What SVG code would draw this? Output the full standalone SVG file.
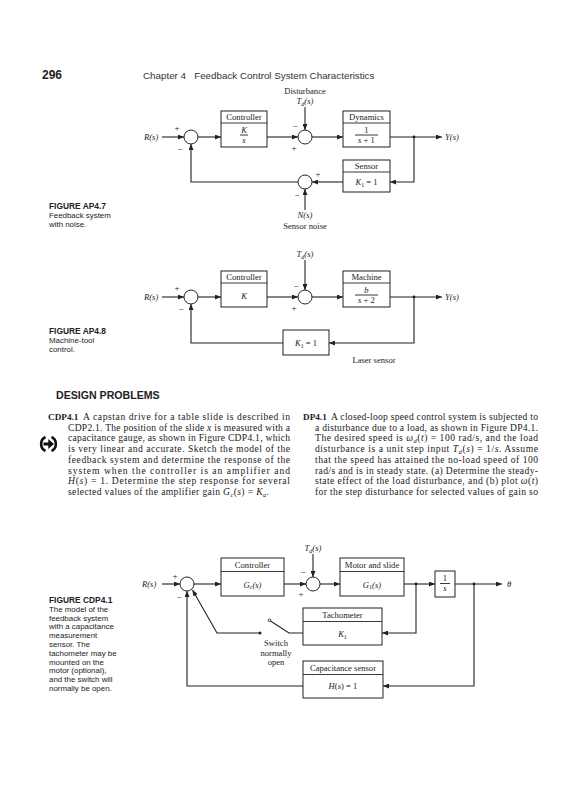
<svg xmlns="http://www.w3.org/2000/svg" width="569" height="800" viewBox="0 0 569 800">
<defs>
<marker id="ah" markerWidth="6" markerHeight="5" refX="6" refY="2.5" orient="auto" markerUnits="userSpaceOnUse"><path d="M0,0 L6,2.5 L0,5 z" fill="#222"/></marker>
<style>
.box{fill:#fff;stroke:#222;stroke-width:1}
.dv{stroke:#222;stroke-width:0.9}
.ln{fill:none;stroke:#222;stroke-width:1.1}
.ar{fill:none;stroke:#222;stroke-width:1.1;marker-end:url(#ah)}
.sum{fill:#fff;stroke:#222;stroke-width:1}
.t{font-family:"Liberation Serif","Times New Roman",serif;font-size:8.6px;fill:#222}
.m{text-anchor:middle}
.i{font-style:italic}
.sg{font-family:"Liberation Serif",serif;font-size:9px;fill:#222;text-anchor:middle}
.cap{font-family:"Liberation Sans",Arial,sans-serif;font-size:7.9px;fill:#222}
.capb{font-family:"Liberation Sans",Arial,sans-serif;font-size:8.4px;font-weight:bold;fill:#222}
.body{font-family:"Liberation Serif","Times New Roman",serif;font-size:9.6px;fill:#222}
.bb{font-weight:bold;font-size:9.2px}
</style>
</defs>
<rect width="569" height="800" fill="#fff"/>

<!-- header -->
<text x="42" y="79" font-family="Liberation Sans,Arial,sans-serif" font-size="12" font-weight="bold" fill="#222">296</text>
<text x="143" y="79" font-family="Liberation Sans,Arial,sans-serif" font-size="9.8" fill="#333" xml:space="preserve">Chapter 4   Feedback Control System Characteristics</text>

<!-- ================= FIGURE AP4.7 ================= -->
<g id="ap47">
<g id="ap47-connectors">
<path class="ar" d="M162,137 H184"/>
<path class="ar" d="M198,137 H221"/>
<path class="ar" d="M267,137 H298"/>
<path class="ar" d="M305,107 V130"/>
<path class="ar" d="M312,137 H343"/>
<path class="ar" d="M390,137 H442"/>
<path class="ar" d="M414,137 V182 H390"/>
<path class="ar" d="M343,182 H312"/>
<path class="ar" d="M298,182 H191 V144"/>
<path class="ar" d="M305,210 V189"/>
<circle cx="414" cy="137" r="1.4" fill="#222"/>
</g>
<g id="ap47-sum1"><circle class="sum" cx="191" cy="137" r="7"/><text class="sg" x="177" y="131">+</text><text class="sg" x="180" y="152">−</text></g>
<g id="ap47-sum2"><circle class="sum" cx="305" cy="137" r="7"/><text class="sg" x="295" y="129">−</text><text class="sg" x="294" y="151">+</text></g>
<g id="ap47-sum3"><circle class="sum" cx="305" cy="182" r="7"/><text class="sg" x="318" y="177">+</text><text class="sg" x="297" y="198">−</text></g>
<g id="ap47-controller">
<rect class="box" x="221" y="111" width="46" height="36"/><line class="dv" x1="221" y1="123" x2="267" y2="123"/>
<text class="t m" x="244" y="120">Controller</text>
<text class="t m i" x="244" y="133">K</text><line class="dv" x1="240" y1="135" x2="248" y2="135"/><text class="t m i" x="244" y="142.5">s</text>
</g>
<g id="ap47-dynamics">
<rect class="box" x="343" y="111" width="47" height="36"/><line class="dv" x1="343" y1="123" x2="390" y2="123"/>
<text class="t m" x="366.5" y="120">Dynamics</text>
<text class="t m" x="366.5" y="133">1</text><line class="dv" x1="355" y1="135" x2="378" y2="135"/><text class="t m" x="366.5" y="143"><tspan class="i">s</tspan> + 1</text>
</g>
<g id="ap47-sensor">
<rect class="box" x="343" y="160" width="47" height="32"/><line class="dv" x1="343" y1="172" x2="390" y2="172"/>
<text class="t m" x="366.5" y="169">Sensor</text>
<text class="t m" x="366.5" y="185"><tspan class="i">K</tspan><tspan font-size="6" dy="1.5">1</tspan><tspan dy="-1.5"> = 1</tspan></text>
</g>
<g id="ap47-labels">
<text class="t i" x="144" y="140">R(s)</text>
<text class="t i" x="445" y="140">Y(s)</text>
<text class="t m" x="305" y="94">Disturbance</text>
<text class="t m i" x="305" y="104">T<tspan font-size="6" dy="1.5">d</tspan><tspan dy="-1.5">(s)</tspan></text>
<text class="t m i" x="305" y="218">N(s)</text>
<text class="t m" x="305" y="228.5">Sensor noise</text>
</g>
</g>
<g id="ap47-caption">
<text class="capb" x="49" y="209">FIGURE AP4.7</text>
<text class="cap" x="49" y="218">Feedback system</text>
<text class="cap" x="49" y="226.8">with noise.</text>
</g>

<!-- ================= FIGURE AP4.8 ================= -->
<g id="ap48">
<g id="ap48-connectors">
<path class="ar" d="M162,297 H184"/>
<path class="ar" d="M198,297 H221"/>
<path class="ar" d="M267,297 H298"/>
<path class="ar" d="M305,260 V290"/>
<path class="ar" d="M312,297 H343"/>
<path class="ar" d="M390,297 H442"/>
<path class="ar" d="M414,297 V343 H329"/>
<path class="ar" d="M283,343 H191 V304"/>
<circle cx="414" cy="297" r="1.4" fill="#222"/>
</g>
<g id="ap48-sum1"><circle class="sum" cx="191" cy="297" r="7"/><text class="sg" x="177" y="291">+</text><text class="sg" x="181" y="312">−</text></g>
<g id="ap48-sum2"><circle class="sum" cx="305" cy="297" r="7"/><text class="sg" x="296" y="289">−</text><text class="sg" x="294" y="311">+</text></g>
<g id="ap48-controller">
<rect class="box" x="221" y="271" width="46" height="36"/><line class="dv" x1="221" y1="283" x2="267" y2="283"/>
<text class="t m" x="244" y="280">Controller</text>
<text class="t m i" x="244" y="299">K</text>
</g>
<g id="ap48-machine">
<rect class="box" x="343" y="271" width="47" height="36"/><line class="dv" x1="343" y1="283" x2="390" y2="283"/>
<text class="t m" x="366.5" y="280">Machine</text>
<text class="t m i" x="366.5" y="293">b</text><line class="dv" x1="355" y1="295" x2="378" y2="295"/><text class="t m" x="366.5" y="303"><tspan class="i">s</tspan> + 2</text>
</g>
<g id="ap48-sensor">
<rect class="box" x="283" y="330" width="46" height="25"/>
<text class="t m" x="306" y="346"><tspan class="i">K</tspan><tspan font-size="6" dy="1.5">1</tspan><tspan dy="-1.5"> = 1</tspan></text>
</g>
<g id="ap48-labels">
<text class="t i" x="144" y="300">R(s)</text>
<text class="t i" x="445" y="300">Y(s)</text>
<text class="t m i" x="305" y="257">T<tspan font-size="6" dy="1.5">d</tspan><tspan dy="-1.5">(s)</tspan></text>
<text class="t m" x="374" y="363">Laser sensor</text>
</g>
</g>
<g id="ap48-caption">
<text class="capb" x="49" y="334">FIGURE AP4.8</text>
<text class="cap" x="49" y="343">Machine-tool</text>
<text class="cap" x="49" y="351.8">control.</text>
</g>

<!-- ================= DESIGN PROBLEMS ================= -->
<text x="56" y="399" font-family="Liberation Sans,Arial,sans-serif" font-size="10.6" font-weight="bold" fill="#222">DESIGN PROBLEMS</text>

<g id="cdp41-text">
<text class="body bb" x="48" y="420">CDP4.1</text>
<text class="body" x="83" y="420" textLength="207" lengthAdjust="spacing">A capstan drive for a table slide is described in</text>
<text class="body" x="68" y="430.7" textLength="222" lengthAdjust="spacing">CDP2.1. The position of the slide <tspan class="i">x</tspan> is measured with a</text>
<text class="body" x="68" y="441.4" textLength="222" lengthAdjust="spacing">capacitance gauge, as shown in Figure CDP4.1, which</text>
<text class="body" x="68" y="452.1" textLength="222" lengthAdjust="spacing">is very linear and accurate. Sketch the model of the</text>
<text class="body" x="68" y="462.8" textLength="222" lengthAdjust="spacing">feedback system and determine the response of the</text>
<text class="body" x="68" y="473.5" textLength="222" lengthAdjust="spacing">system when the controller is an amplifier and</text>
<text class="body" x="68" y="484.2" textLength="222" lengthAdjust="spacing"><tspan class="i">H</tspan>(<tspan class="i">s</tspan>) = 1. Determine the step response for several</text>
<text class="body" x="68" y="494.9" textLength="201" lengthAdjust="spacing">selected values of the amplifier gain <tspan class="i">G</tspan><tspan font-size="6.5" dy="1.8" class="i">c</tspan><tspan dy="-1.8">(</tspan><tspan class="i">s</tspan>) = <tspan class="i">K</tspan><tspan font-size="6.5" dy="1.8" class="i">a</tspan><tspan dy="-1.8">.</tspan></text>
</g>
<g id="cdp-icon">
<path d="M45.5,437 A7.8,7.8 0 0 0 45.5,451 M51.5,437 A7.8,7.8 0 0 1 51.5,451" fill="none" stroke="#111" stroke-width="2.6"/>
<path d="M43.5,442.5 H48.3 V439 L54,444 L48.3,449 V445.5 H43.5 z" fill="#111"/>
</g>

<g id="dp41-text">
<text class="body bb" x="303" y="420">DP4.1</text>
<text class="body" x="331" y="420" textLength="207" lengthAdjust="spacing">A closed-loop speed control system is subjected to</text>
<text class="body" x="315" y="430.7" textLength="223" lengthAdjust="spacing">a disturbance due to a load, as shown in Figure DP4.1.</text>
<text class="body" x="315" y="441.4" textLength="223" lengthAdjust="spacing">The desired speed is <tspan class="i">ω</tspan><tspan font-size="6.5" dy="1.8" class="i">d</tspan><tspan dy="-1.8">(</tspan><tspan class="i">t</tspan>) = 100 rad/s, and the load</text>
<text class="body" x="315" y="452.1" textLength="223" lengthAdjust="spacing">disturbance is a unit step input <tspan class="i">T</tspan><tspan font-size="6.5" dy="1.8" class="i">d</tspan><tspan dy="-1.8">(</tspan><tspan class="i">s</tspan>) = 1/<tspan class="i">s</tspan>. Assume</text>
<text class="body" x="315" y="462.8" textLength="223" lengthAdjust="spacing">that the speed has attained the no-load speed of 100</text>
<text class="body" x="315" y="473.5" textLength="223" lengthAdjust="spacing">rad/s and is in steady state. (a) Determine the steady-</text>
<text class="body" x="315" y="484.2" textLength="223" lengthAdjust="spacing">state effect of the load disturbance, and (b) plot <tspan class="i">ω</tspan>(<tspan class="i">t</tspan>)</text>
<text class="body" x="315" y="494.9" textLength="223" lengthAdjust="spacing">for the step disturbance for selected values of gain so</text>
</g>

<!-- ================= FIGURE CDP4.1 ================= -->
<g id="cdp41">
<g id="cdp41-connectors">
<path class="ar" d="M162,584 H180"/>
<path class="ar" d="M194,584 H221"/>
<path class="ar" d="M284,584 H306"/>
<path class="ar" d="M313,554 V577"/>
<path class="ar" d="M320,584 H340"/>
<path class="ar" d="M404,584 H435"/>
<path class="ar" d="M455,584 H502"/>
<path class="ar" d="M416,584 V633 H382"/>
<path class="ln" d="M303,633 H289 L270.5,621"/>
<circle cx="269.5" cy="620.3" r="1.3" fill="#fff" stroke="#222" stroke-width="0.9"/>
<circle cx="260" cy="633" r="1.5" fill="#222"/>
<path class="ar" d="M260,633 H217 L192.5,590"/>
<path class="ar" d="M474,584 V686 H383"/>
<path class="ar" d="M303,686 H187 V591"/>
<circle cx="416" cy="584" r="1.4" fill="#222"/>
<circle cx="474" cy="584" r="1.4" fill="#222"/>
</g>
<g id="cdp41-sum1"><circle class="sum" cx="187" cy="584" r="7"/><text class="sg" x="175" y="579">+</text><text class="sg" x="179" y="600">−</text></g>
<g id="cdp41-sum2"><circle class="sum" cx="313" cy="584" r="7"/><text class="sg" x="303" y="575">−</text><text class="sg" x="301" y="597">+</text></g>
<g id="cdp41-controller">
<rect class="box" x="221" y="558" width="63" height="38"/><line class="dv" x1="221" y1="571.5" x2="284" y2="571.5"/>
<text class="t m" x="252.5" y="568">Controller</text>
<text class="t m i" x="252.5" y="587.5">G<tspan font-size="6" dy="1.5">c</tspan><tspan dy="-1.5">(s)</tspan></text>
</g>
<g id="cdp41-motor">
<rect class="box" x="340" y="558" width="64" height="38"/><line class="dv" x1="340" y1="571.5" x2="404" y2="571.5"/>
<text class="t m" x="372" y="568">Motor and slide</text>
<text class="t m i" x="372" y="587.5">G<tspan font-size="6" dy="1.5" font-style="normal">1</tspan><tspan dy="-1.5">(s)</tspan></text>
</g>
<g id="cdp41-integrator">
<rect class="box" x="435" y="571" width="20" height="26"/>
<text class="t m" x="445" y="581">1</text><line class="dv" x1="440" y1="583.5" x2="450" y2="583.5"/><text class="t m i" x="445" y="591">s</text>
</g>
<g id="cdp41-tach">
<rect class="box" x="303" y="608" width="79" height="37"/><line class="dv" x1="303" y1="621.5" x2="382" y2="621.5"/>
<text class="t m" x="342.5" y="618">Tachometer</text>
<text class="t m i" x="342.5" y="637">K<tspan font-size="6" dy="1.5" font-style="normal">1</tspan></text>
</g>
<g id="cdp41-capsensor">
<rect class="box" x="303" y="661" width="80" height="37"/><line class="dv" x1="303" y1="674.5" x2="383" y2="674.5"/>
<text class="t m" x="343" y="671">Capacitance sensor</text>
<text class="t m" x="343" y="689"><tspan class="i">H</tspan>(<tspan class="i">s</tspan>) = 1</text>
</g>
<g id="cdp41-labels">
<text class="t i" x="142" y="587">R(s)</text>
<text class="t i" x="507" y="587">θ</text>
<text class="t m i" x="313" y="551">T<tspan font-size="6" dy="1.5">d</tspan><tspan dy="-1.5">(s)</tspan></text>
<text class="t m" x="276" y="646" font-size="8.4">Switch</text>
<text class="t m" x="276" y="655.6" font-size="8.4">normally</text>
<text class="t m" x="276" y="665.2" font-size="8.4">open</text>
</g>
</g>
<g id="cdp41-caption">
<text class="capb" x="49" y="603">FIGURE CDP4.1</text>
<text class="cap" x="49" y="611.8">The model of the</text>
<text class="cap" x="49" y="620.6">feedback system</text>
<text class="cap" x="49" y="629.4">with a capacitance</text>
<text class="cap" x="49" y="638.2">measurement</text>
<text class="cap" x="49" y="647">sensor. The</text>
<text class="cap" x="49" y="655.8">tachometer may be</text>
<text class="cap" x="49" y="664.6">mounted on the</text>
<text class="cap" x="49" y="673.4">motor (optional),</text>
<text class="cap" x="49" y="682.2">and the switch will</text>
<text class="cap" x="49" y="691">normally be open.</text>
</g>
</svg>
